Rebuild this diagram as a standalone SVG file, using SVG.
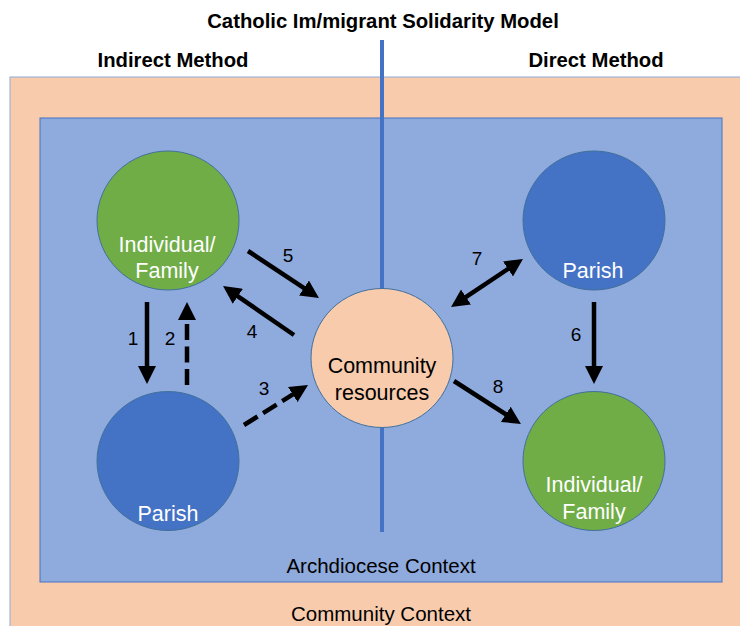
<svg xmlns="http://www.w3.org/2000/svg" width="740" height="626" viewBox="0 0 740 626">
<defs>
<style>
text{font-family:"Liberation Sans",Arial,sans-serif;text-anchor:middle;fill:#000}
.hd{font-weight:bold;font-size:20.3px}
.ct{font-size:21.5px;fill:#fff}
.cd{font-size:21.5px}
.num{font-size:19px}
.lbl{font-size:20.5px}
.circ{stroke:#41719C;stroke-width:1}
.arr{stroke:#000;stroke-width:4.5;fill:none}
.dash{stroke-dasharray:16 6.5}
</style>
<marker id="ah" markerUnits="userSpaceOnUse" markerWidth="18" markerHeight="18" refX="7" refY="9" orient="auto-start-reverse" viewBox="0 0 18 18">
<path d="M0,0 L18,9 L0,18 z" fill="#000"/>
</marker>
</defs>
<rect id="community-context" x="10" y="77" width="740" height="560" fill="#F8CBAD" stroke="#8FAADC" stroke-width="1"/>
<rect id="archdiocese-context" x="40" y="118" width="682" height="464" fill="#8FAADC" stroke="#4472C4" stroke-width="1"/>
<line id="divider" x1="382" y1="40" x2="382" y2="532" stroke="#4472C4" stroke-width="4"/>
<text class="hd" x="383" y="28">Catholic Im/migrant Solidarity Model</text>
<text class="hd" x="173" y="67">Indirect Method</text>
<text class="hd" x="596" y="67">Direct Method</text>
<text class="lbl" x="381" y="573">Archdiocese Context</text>
<text class="lbl" x="381" y="621">Community Context</text>
<g id="connectors">
<line class="arr" x1="147" y1="302" x2="147" y2="373" marker-end="url(#ah)"/>
<line class="arr dash" x1="187" y1="385" x2="187" y2="313" marker-end="url(#ah)"/>
<line class="arr dash" x1="244" y1="425" x2="298.7" y2="390.8" marker-end="url(#ah)"/>
<line class="arr" x1="294" y1="335" x2="232.1" y2="292.3" marker-end="url(#ah)"/>
<line class="arr" x1="248" y1="251" x2="309.8" y2="291.9" marker-end="url(#ah)"/>
<line class="arr" x1="594" y1="302" x2="594" y2="373" marker-end="url(#ah)"/>
<line class="arr" x1="460.2" y1="300.9" x2="513.8" y2="265.1" marker-start="url(#ah)" marker-end="url(#ah)"/>
<line class="arr" x1="454" y1="381" x2="511.7" y2="418.1" marker-end="url(#ah)"/>
<text class="num" x="133" y="345">1</text>
<text class="num" x="170" y="345">2</text>
<text class="num" x="264" y="395">3</text>
<text class="num" x="252" y="338">4</text>
<text class="num" x="288" y="262">5</text>
<text class="num" x="576" y="341">6</text>
<text class="num" x="477" y="265">7</text>
<text class="num" x="498" y="393">8</text>
</g>
<g id="indirect-individual">
<ellipse class="circ" cx="168" cy="220.5" rx="71" ry="69.5" fill="#70AD47"/>
<text class="ct" x="167" y="252">Individual/</text>
<text class="ct" x="167" y="278">Family</text>
</g>
<g id="indirect-parish">
<ellipse class="circ" cx="168" cy="461" rx="71" ry="69.5" fill="#4472C4"/>
<text class="ct" x="168" y="521">Parish</text>
</g>
<g id="community-resources">
<ellipse class="circ" cx="382" cy="358" rx="71" ry="69.5" fill="#F8CBAD"/>
<text class="cd" x="382" y="373">Community</text>
<text class="cd" x="382" y="400">resources</text>
</g>
<g id="direct-parish">
<ellipse class="circ" cx="594" cy="220.5" rx="71" ry="69.5" fill="#4472C4"/>
<text class="ct" x="593" y="278">Parish</text>
</g>
<g id="direct-individual">
<ellipse class="circ" cx="594" cy="461" rx="71" ry="69.5" fill="#70AD47"/>
<text class="ct" x="594" y="492">Individual/</text>
<text class="ct" x="594" y="519">Family</text>
</g>
</svg>
